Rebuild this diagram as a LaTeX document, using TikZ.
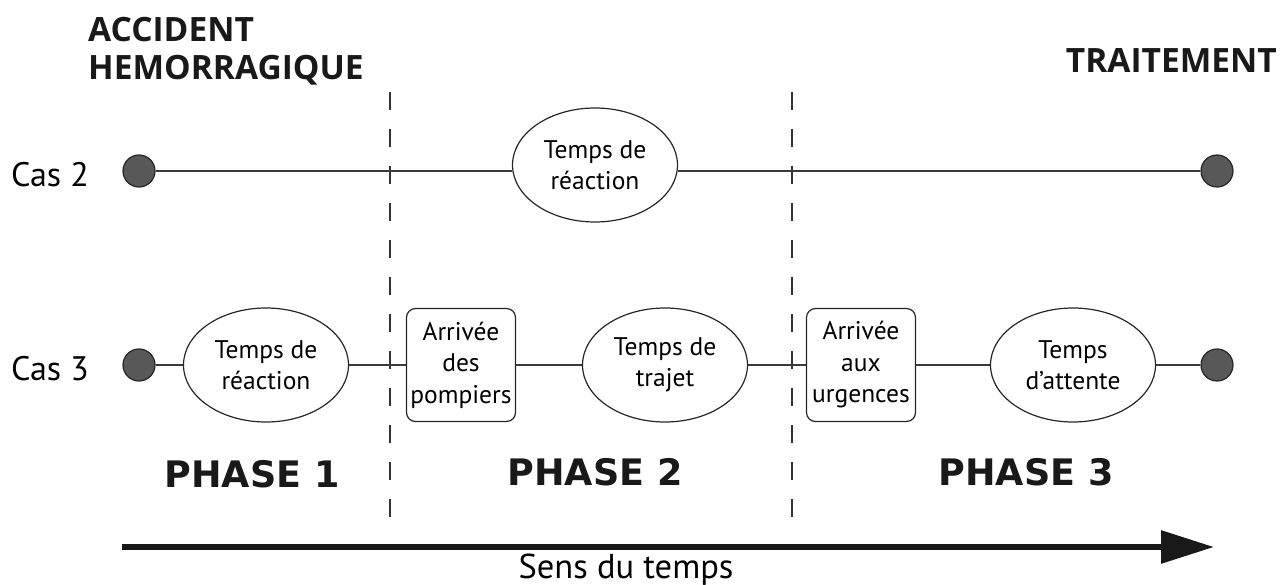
\documentclass[tikz,border=0pt]{standalone}
\usepackage{fontspec}
\setmainfont{PT Sans}
\newfontfamily\phasefont{DejaVu Sans}
\newfontfamily\headfont{Open Sans}
\usetikzlibrary{arrows.meta,shapes.geometric}
\definecolor{dotfill}{HTML}{585858}
\definecolor{linec}{HTML}{3A3A3A}
\begin{document}
\begin{tikzpicture}[x=1pt,y=-1pt,
  dot/.style={circle,draw=black!85,fill=dotfill,line width=1.2pt,minimum size=32pt,inner sep=0pt},
  oval/.style={ellipse,draw=black!85,line width=1.2pt,minimum width=165pt,minimum height=114pt,inner sep=0pt,align=center,font=\fontsize{25.5}{31}\selectfont},
  rbox/.style={rectangle,rounded corners=9pt,draw=black!85,line width=1.2pt,minimum width=109pt,minimum height=113pt,inner sep=2pt,align=center,font=\fontsize{25.5}{31.5}\selectfont},
  conn/.style={draw=linec,line width=1.3pt},
  sep/.style={draw=black!80,line width=1.1pt,dash pattern=on 18pt off 19pt},
  head/.style={font=\headfont\bfseries\fontsize{33.5}{45}\selectfont,inner sep=0pt,text=black!90},
  cas/.style={font=\fontsize{34}{40}\selectfont,inner sep=0pt},
  phase/.style={font=\phasefont\bfseries\fontsize{36.5}{40}\selectfont,inner sep=0pt,text=black!90}
]
\useasboundingbox (0,0) rectangle (1280,585);
% headings
\node[head,anchor=base west] (acc) at (88,42) {ACCIDENT};
\node[head,anchor=base west] (hem) at (88,80) {HEMORRAGIQUE};
\node[head,anchor=base east] (trt) at (1277,73) {TRAITEMENT};
% separators
\draw[sep] (390,92) -- (390,522);
\draw[sep] (792,92) -- (792,522);
% Cas 2
\node[cas,anchor=base east] (cas2) at (89,187) {Cas 2};
\node[dot] (c2a) at (139,171) {};
\node[dot] (c2b) at (1217,171) {};
\node[oval] (e1) at (595,165) {Temps de\\réaction};
\draw[conn] (c2a) -- (e1.west |- c2a);
\draw[conn] (e1.east |- c2a) -- (c2b);
% Cas 3
\node[cas,anchor=base east] (cas3) at (89,381) {Cas 3};
\node[dot] (c3a) at (139,365) {};
\node[oval] (e2) at (266,365) {Temps de\\réaction};
\node[rbox] (b1) at (461,365) {Arrivée\\des\\pompiers};
\node[oval] (e3) at (665,365) {Temps de\\trajet};
\node[rbox] (b2) at (861,365) {Arrivée\\aux\\urgences};
\node[oval] (e4) at (1073,365) {Temps\\d’attente};
\node[dot] (c3b) at (1217,365) {};
\draw[conn] (c3a) -- (e2) -- (b1) -- (e3) -- (b2) -- (e4) -- (c3b);
% phases
\node[phase,anchor=base] (p1) at (252,487) {PHASE 1};
\node[phase,anchor=base] (p2) at (595,485) {PHASE 2};
\node[phase,anchor=base] (p3) at (1026,485) {PHASE 3};
% time arrow
\coordinate (ta) at (122,547);
\coordinate (tb) at (1214,547);
\draw[line width=6pt,black!90,-{Triangle[length=53pt,width=32pt]}] (ta) -- (tb);
\node[font=\fontsize{34.5}{40}\selectfont,anchor=base,inner sep=0pt] (sens) at (626,578) {Sens du temps};
\end{tikzpicture}
\end{document}
